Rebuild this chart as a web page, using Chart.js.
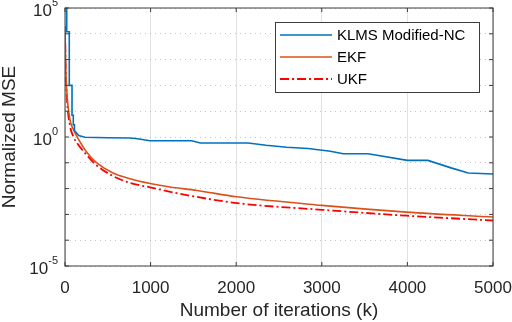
<!DOCTYPE html>
<html>
<head>
<meta charset="utf-8">
<script src="https://cdn.jsdelivr.net/npm/chart.js@4.4.1/dist/chart.umd.min.js"></script>
<style>
  body { margin: 0; background: #fff; }
  #wrap { width: 512px; height: 322px; }
</style>
</head>
<body>
<div id="wrap"><canvas id="mse" width="512" height="322"></canvas></div>
<script>
// values
var seriesNames = ["KLMS Modified-NC", "EKF", "UKF"];

var klmsIter = [20, 20, 50, 50, 82, 82, 97, 97, 110, 110, 130, 160, 234, 500, 760, 850, 990, 1480, 1580, 2140, 2350, 2590, 2840, 3100, 3250, 3540, 4000, 4240, 4500, 4710, 5000];
var klmsMse = [1e6, 1.2e4, 1.2e4, 100, 100, 7, 7, 3, 3, 1.8, 1.5, 1.15, 0.98, 0.93, 0.91, 0.85, 0.72, 0.72, 0.585, 0.585, 0.48, 0.40, 0.36, 0.28, 0.225, 0.225, 0.124, 0.124, 0.065, 0.040, 0.037];

var ekfIter = [0, 6, 20, 58, 100, 160, 257, 354, 549, 760, 993, 1227, 1540, 2006, 3000, 3990, 5000];
var ekfMse = [2e4, 1000, 68, 4.7, 1.9, 0.79, 0.25, 0.112, 0.042, 0.024, 0.0158, 0.0115, 0.0085, 0.0048, 0.00224, 0.00123, 0.00079];

var ukfIter = [0, 6, 20, 58, 100, 140, 218, 354, 549, 760, 993, 1343, 2006, 3000, 3990, 5000];
var ukfMse = [2e4, 800, 40, 2.8, 1.0, 0.59, 0.275, 0.089, 0.032, 0.0166, 0.0112, 0.0063, 0.00275, 0.00151, 0.00089, 0.00058];

var xTicks = [0, 1000, 2000, 3000, 4000, 5000];
var yDecades = [1e-5, 1e-4, 1e-3, 1e-2, 1e-1, 1e0, 1e1, 1e2, 1e3, 1e4, 1e5];
var yLabelExp = [-5, 0, 5];

var FONT = '"Liberation Sans", Arial, Helvetica, sans-serif';
var AXIS = "#3c3c3c";

function pts(xs, ys) {
  return xs.map(function (x, i) { return { x: x, y: ys[i] }; });
}

// box, inward ticks, y labels with exponents, legend
var matlabLook = {
  id: "matlabLook",
  afterDraw: function (chart) {
    var ctx = chart.ctx;
    var a = chart.chartArea;
    var xs = chart.scales.x;
    var ys = chart.scales.y;
    ctx.save();
    ctx.strokeStyle = AXIS;
    ctx.lineWidth = 1;
    ctx.strokeRect(a.left, a.top, a.right - a.left, a.bottom - a.top);
    ctx.beginPath();
    xTicks.forEach(function (v) {
      var px = xs.getPixelForValue(v);
      ctx.moveTo(px, a.bottom); ctx.lineTo(px, a.bottom - 4);
      ctx.moveTo(px, a.top); ctx.lineTo(px, a.top + 4);
    });
    yDecades.forEach(function (v) {
      var py = ys.getPixelForValue(v);
      ctx.moveTo(a.left, py); ctx.lineTo(a.left + 4, py);
      ctx.moveTo(a.right, py); ctx.lineTo(a.right - 4, py);
    });
    ctx.stroke();

    // y tick labels: 10^n
    ctx.fillStyle = "#262626";
    ctx.textBaseline = "middle";
    yLabelExp.forEach(function (e) {
      var py = ys.getPixelForValue(Math.pow(10, e));
      var s = e < 0 ? "-" + (-e) : String(e);
      ctx.font = "11px " + FONT;
      var w = ctx.measureText(s).width;
      var right = a.left - 7;
      ctx.textAlign = "left";
      ctx.fillText(s, right - w, py - 5);
      ctx.font = "17px " + FONT;
      ctx.textAlign = "right";
      ctx.fillText("10", right - w, py + 3.5);
    });

    // legend
    var bx = 275, by = 22, bw = 204, bh = 70;
    ctx.fillStyle = "#fff";
    ctx.fillRect(bx, by, bw, bh);
    ctx.strokeStyle = AXIS;
    ctx.strokeRect(bx + 0.5, by + 0.5, bw, bh);
    var rows = [35, 57, 79];
    chart.data.datasets.forEach(function (ds, i) {
      ctx.beginPath();
      ctx.strokeStyle = ds.borderColor;
      ctx.lineWidth = ds.borderWidth;
      ctx.setLineDash(ds.borderDash || []);
      ctx.moveTo(280, rows[i]);
      ctx.lineTo(332, rows[i]);
      ctx.stroke();
      ctx.setLineDash([]);
      ctx.fillStyle = "#000";
      ctx.font = "15px " + FONT;
      ctx.textAlign = "left";
      ctx.fillText(ds.label, 337, rows[i] + 1);
    });
    ctx.restore();
  }
};

new Chart(document.getElementById("mse"), {
  type: "line",
  data: {
    datasets: [
      {
        label: seriesNames[0],
        data: pts(klmsIter, klmsMse),
        borderColor: "#0072BD",
        borderWidth: 1.6,
        pointRadius: 0,
        tension: 0
      },
      {
        label: seriesNames[1],
        data: pts(ekfIter, ekfMse),
        borderColor: "#D95319",
        borderWidth: 1.6,
        pointRadius: 0,
        cubicInterpolationMode: "monotone"
      },
      {
        label: seriesNames[2],
        data: pts(ukfIter, ukfMse),
        borderColor: "#FF0000",
        borderWidth: 1.8,
        borderDash: [9, 3, 2, 3],
        pointRadius: 0,
        cubicInterpolationMode: "monotone"
      }
    ]
  },
  options: {
    responsive: false,
    animation: false,
    layout: { padding: { left: 0, right: 19, top: 8, bottom: 0 } },
    plugins: {
      legend: { display: false },
      tooltip: { enabled: false }
    },
    scales: {
      x: {
        type: "linear",
        min: 0,
        max: 5000,
        afterBuildTicks: function (s) { s.ticks = xTicks.map(function (v) { return { value: v }; }); },
        afterFit: function (s) {
          s.height = 56;
          s.paddingLeft = 0;
          s.paddingRight = 0;
        },
        ticks: {
          font: { size: 17, family: FONT },
          color: "#262626",
          padding: 12,
          maxRotation: 0,
          callback: function (v) { return String(v); }
        },
        grid: { color: "#e2e2e2", drawTicks: false },
        border: { display: false },
        title: {
          display: true,
          text: "Number of iterations (k)",
          font: { size: 19, family: FONT, lineHeight: 1 },
          color: "#262626",
          padding: { top: 0, bottom: 2 }
        }
      },
      y: {
        type: "logarithmic",
        min: 1e-5,
        max: 1e5,
        afterBuildTicks: function (s) { s.ticks = yDecades.map(function (v) { return { value: v }; }); },
        afterFit: function (s) { s.width = 65; },
        ticks: { display: false },
        grid: { color: "#c4c4c4", drawTicks: false },
        border: { display: false, dash: [1, 4] },
        title: {
          display: true,
          text: "Normalized MSE",
          font: { size: 19, family: FONT, lineHeight: 1 },
          color: "#262626",
          padding: { top: 0, bottom: 0 }
        }
      }
    }
  },
  plugins: [matlabLook]
});
</script>
</body>
</html>
